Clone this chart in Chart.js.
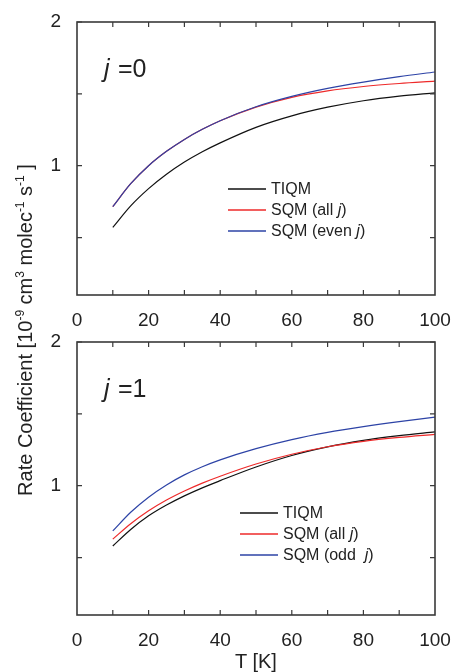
<!DOCTYPE html>
<html>
<head>
<meta charset="utf-8">
<script src="https://cdn.jsdelivr.net/npm/chart.js@4.4.1/dist/chart.umd.min.js"></script>
<style>
  body { margin: 0; background: #fff; width: 453px; height: 672px; position: relative; overflow: hidden; font-family: "Liberation Sans", Arial, sans-serif; color: #222; }
  canvas { position: absolute; left: 0; }
  #c0 { top: 0; }
  #c1 { top: 320px; }
  #ytitle { position: absolute; width: 440px; left: -195px; top: 318px; text-align: center; font-size: 20px; line-height: 24px; transform: rotate(-90deg); white-space: nowrap; }
  #ytitle sup { font-size: 12px; vertical-align: 8px; line-height: 0; }
  #xtitle { position: absolute; left: 206px; width: 100px; top: 649px; text-align: center; font-size: 20px; line-height: 24px; }
</style>
</head>
<body>
<canvas id="c0" width="453" height="330"></canvas>
<canvas id="c1" width="453" height="330"></canvas>
<div id="ytitle">Rate Coefficient [10<sup>-9</sup> cm<sup>3</sup> molec<sup>-1</sup> s<sup>-1</sup> ]</div>
<div id="xtitle">T [K]</div>
<script>
// temperaturas (K)
const temps = [10, 15, 20, 25, 30, 35, 40, 50, 60, 70, 80, 90, 100];

// panel j=0
const tiqmJ0 = [0.57, 0.72, 0.84, 0.94, 1.025, 1.097, 1.159, 1.267, 1.347, 1.407, 1.452, 1.484, 1.507];
const sqmAllJ0 = [0.715, 0.875, 1.0, 1.10, 1.183, 1.253, 1.313, 1.408, 1.476, 1.521, 1.551, 1.572, 1.588];
const sqmEvenJ0 = [0.715, 0.875, 1.0, 1.10, 1.183, 1.253, 1.313, 1.41, 1.482, 1.538, 1.582, 1.62, 1.652];

// panel j=1
const tiqmJ1 = [0.58, 0.695, 0.79, 0.865, 0.929, 0.985, 1.035, 1.13, 1.21, 1.27, 1.315, 1.348, 1.375];
const sqmAllJ1 = [0.628, 0.735, 0.825, 0.90, 0.963, 1.018, 1.066, 1.151, 1.219, 1.271, 1.309, 1.336, 1.357];
const sqmOddJ1 = [0.685, 0.815, 0.92, 1.005, 1.075, 1.132, 1.18, 1.258, 1.321, 1.371, 1.411, 1.446, 1.477];

const namesJ0 = ["TIQM", "SQM (all j)", "SQM (even j)"];
const namesJ1 = ["TIQM", "SQM (all j)", "SQM (odd  j)"];
const panelLabels = ["0", "1"];

const xTicksLabeled = [0, 20, 40, 60, 80, 100];
const xMinorTicks = [10, 20, 30, 40, 50, 60, 70, 80, 90];
const yTicks = [0.5, 1, 1.5, 2];
const yLabeled = [1, 2];

const colores = ["#111111", "#ee2a2a", "#2d43a6"];
const FONT = '"Liberation Sans", Arial, sans-serif';

function puntos(arr) {
  return temps.map((t, i) => ({ x: t, y: arr[i] }));
}

// texto con la j en cursiva
function textoMixto(ctx, txt, x, y, size) {
  let cx = x;
  for (const ch of txt) {
    ctx.font = (ch === "j" ? "italic " : "") + size + "px " + FONT;
    ctx.fillText(ch, cx, y);
    cx += ctx.measureText(ch).width;
  }
}

const marcoPlugin = {
  id: "marco",
  afterDraw(chart, args, opts) {
    const { ctx, chartArea: a, scales } = chart;
    ctx.save();
    ctx.strokeStyle = "#3a3a3a";
    ctx.lineWidth = 1.6;
    ctx.strokeRect(a.left, a.top, a.right - a.left, a.bottom - a.top);
    ctx.lineWidth = 1.2;
    ctx.beginPath();
    xMinorTicks.forEach(v => {
      const px = scales.x.getPixelForValue(v);
      ctx.moveTo(px, a.bottom); ctx.lineTo(px, a.bottom - 5);
      ctx.moveTo(px, a.top); ctx.lineTo(px, a.top + 5);
    });
    yTicks.forEach(v => {
      const py = scales.y.getPixelForValue(v);
      ctx.moveTo(a.left, py); ctx.lineTo(a.left + 5, py);
      ctx.moveTo(a.right, py); ctx.lineTo(a.right - 5, py);
    });
    ctx.stroke();

    // leyenda
    ctx.fillStyle = "#222";
    ctx.textBaseline = "middle";
    chart.data.datasets.forEach((ds, i) => {
      const y = a.top + opts.ly + i * 21;
      ctx.strokeStyle = ds.borderColor;
      ctx.lineWidth = 1.3;
      ctx.beginPath();
      ctx.moveTo(a.left + opts.lx, y);
      ctx.lineTo(a.left + opts.lx + 38, y);
      ctx.stroke();
      textoMixto(ctx, ds.label, a.left + opts.lx + 43, y + 1, 16);
    });

    // etiqueta del panel
    ctx.textBaseline = "alphabetic";
    ctx.font = "italic 25px " + FONT;
    ctx.fillText("j", a.left + 27, a.top + 55);
    ctx.font = "25px " + FONT;
    ctx.fillText("=" + opts.panel, a.left + 41, a.top + 55);
    ctx.restore();
  }
};

function crearPanel(id, series, nombres, panel, lx, ly) {
  const ctx = document.getElementById(id).getContext("2d");
  // negro, rojo y el azul encima
  const datasets = series.map((s, i) => ({
    label: nombres[i],
    data: puntos(s),
    borderColor: colores[i],
    borderWidth: 1.2,
    pointRadius: 0,
    cubicInterpolationMode: "monotone",
    fill: false,
    order: 3 - i
  }));
  return new Chart(ctx, {
    type: "line",
    data: { datasets: datasets },
    options: {
      responsive: false,
      animation: false,
      devicePixelRatio: 1,
      layout: { padding: { top: 22, right: 18, left: 0, bottom: 0 } },
      plugins: {
        legend: { display: false },
        tooltip: { enabled: false },
        marco: { lx: lx, ly: ly, panel: panel }
      },
      scales: {
        x: {
          type: "linear",
          min: 0,
          max: 100,
          grid: { display: false },
          border: { display: false },
          afterBuildTicks: sc => { sc.ticks = xTicksLabeled.map(v => ({ value: v })); },
          afterFit: sc => { sc.height = 35; sc.paddingRight = 0; sc.paddingLeft = 0; },
          ticks: { color: "#222", padding: 6, maxRotation: 0, font: { size: 19, family: FONT } }
        },
        y: {
          type: "linear",
          min: 0.1,
          max: 2,
          grid: { display: false },
          border: { display: false },
          afterBuildTicks: sc => { sc.ticks = yTicks.map(v => ({ value: v })); },
          afterFit: sc => { sc.width = 77; sc.paddingTop = 0; sc.paddingBottom = 0; },
          ticks: {
            color: "#222",
            padding: 8,
            font: { size: 19, family: FONT },
            callback: v => (yLabeled.includes(v) ? String(v) : "")
          }
        }
      }
    },
    plugins: [marcoPlugin]
  });
}

crearPanel("c0", [tiqmJ0, sqmAllJ0, sqmEvenJ0], namesJ0, panelLabels[0], 151, 167);
crearPanel("c1", [tiqmJ1, sqmAllJ1, sqmOddJ1], namesJ1, panelLabels[1], 163, 171);
</script>
</body>
</html>
